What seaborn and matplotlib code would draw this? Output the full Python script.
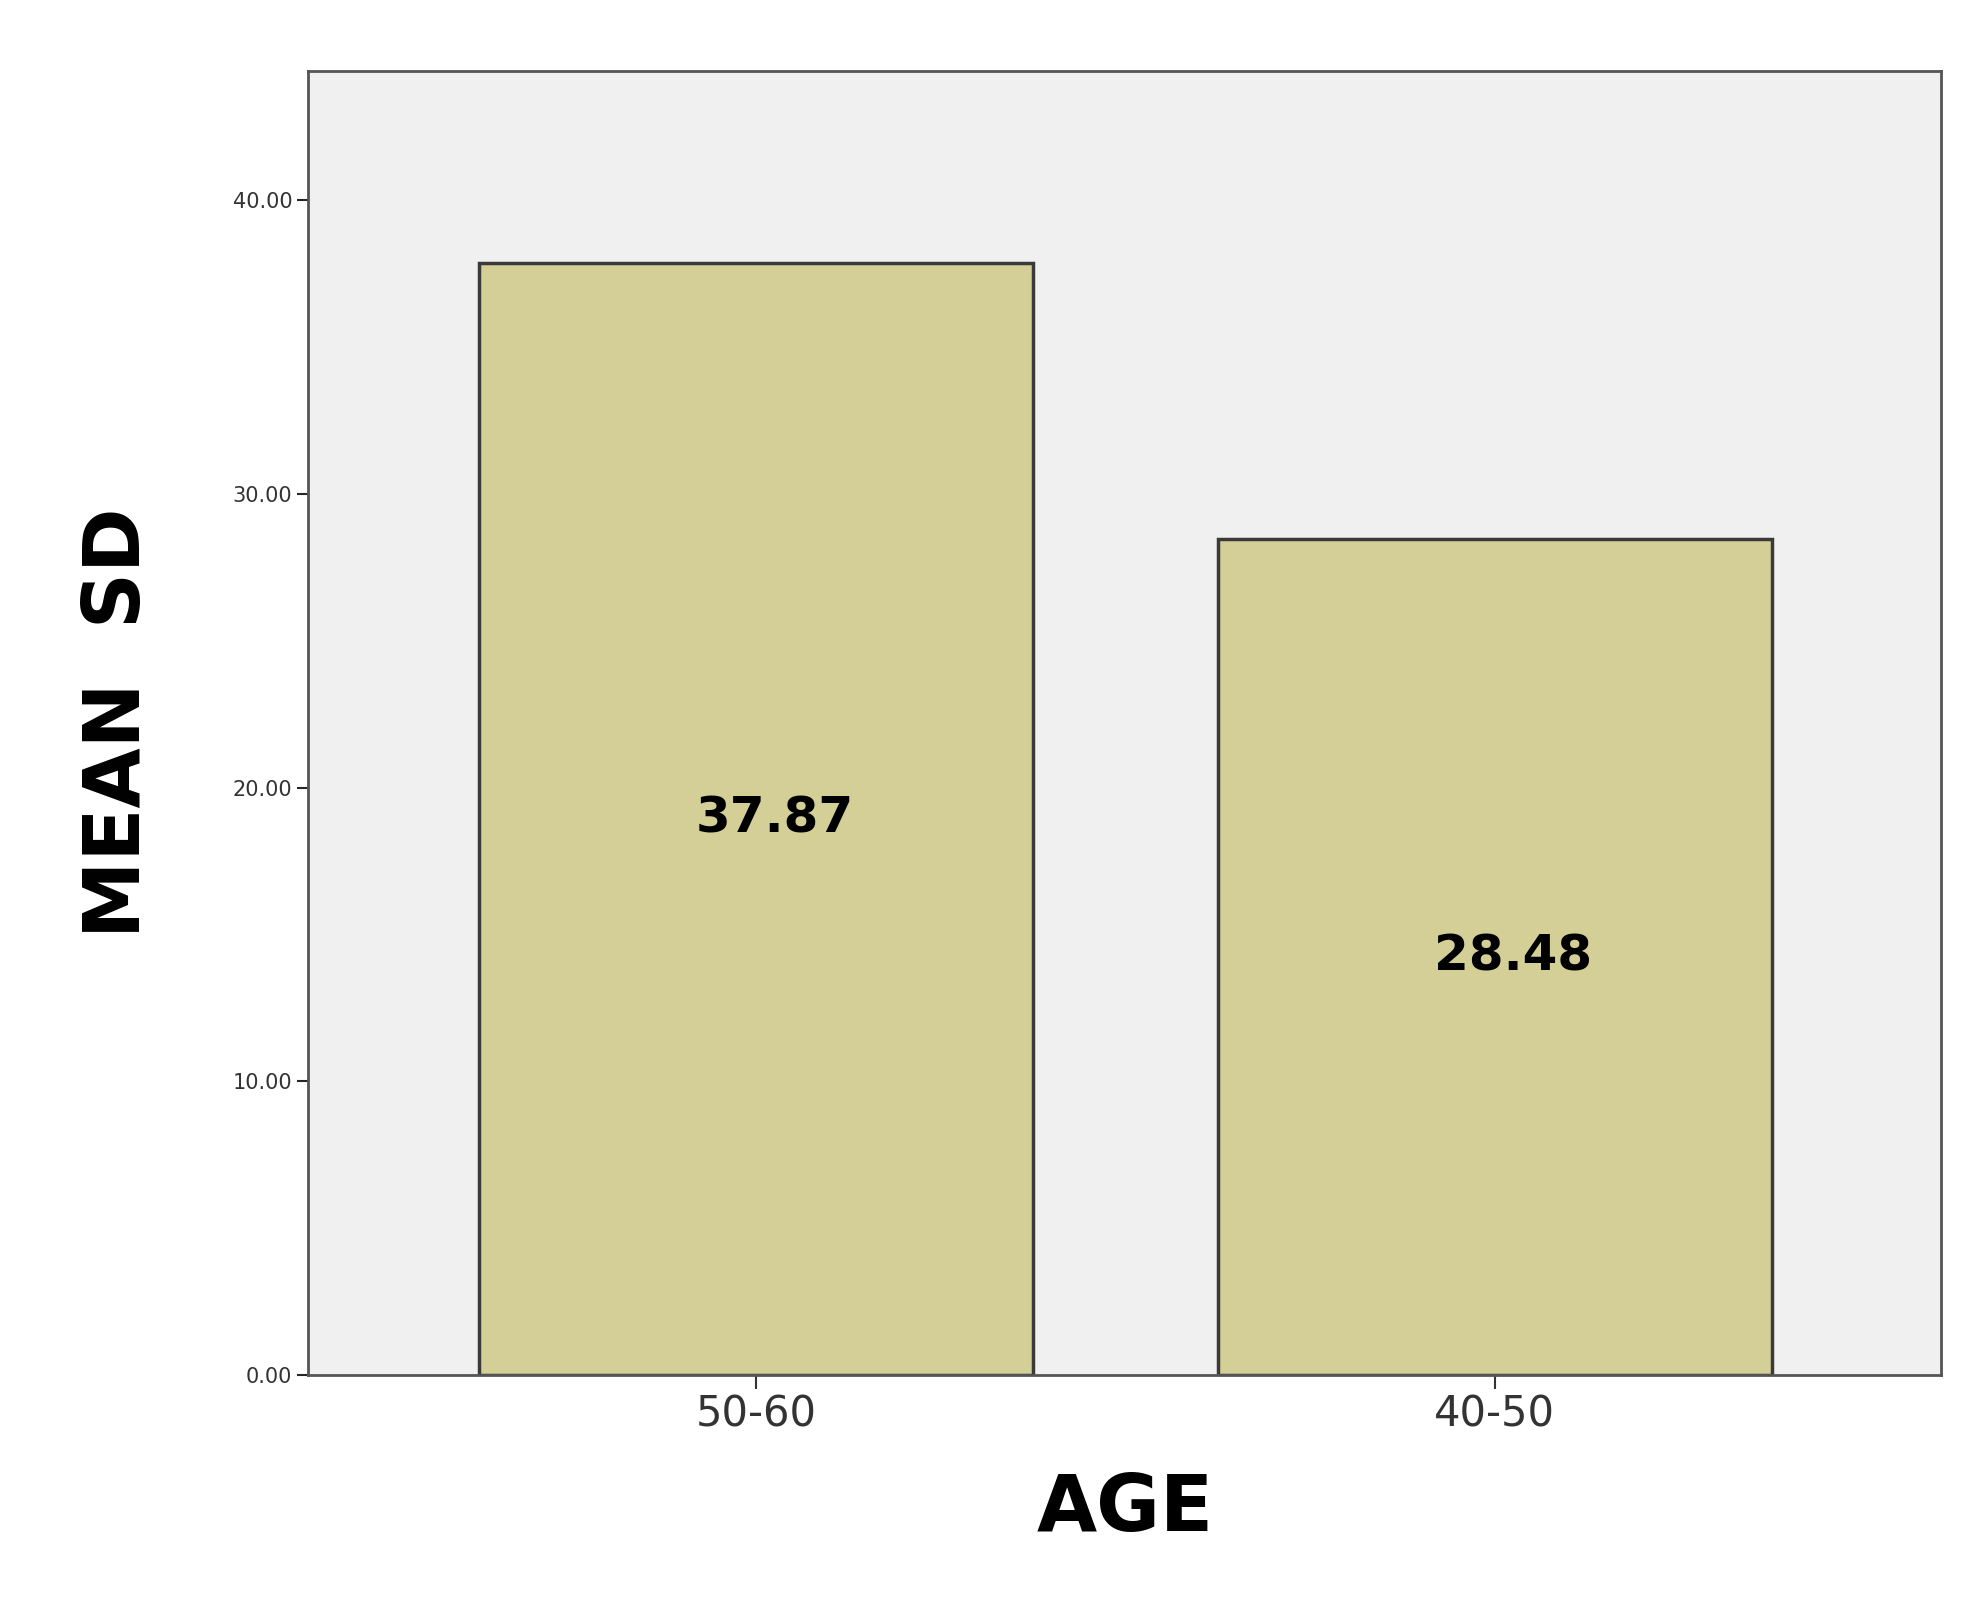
import matplotlib
matplotlib.use("Agg")
import matplotlib.pyplot as plt
import seaborn as sns
import pandas as pd

categories = ["50-60", "40-50"]
values = [37.87, 28.48]
yticks = [0, 10, 20, 30, 40]

sns.set_style("white")
plt.rcParams['font.family'] = ['DejaVu Sans']
df = pd.DataFrame({"AGE": categories, "SD": values})

fig = plt.figure(figsize=(19.63, 16.12), dpi=100)
ax = fig.add_axes([0.157, 0.147, 0.832, 0.809])
ax.set_facecolor("#f0f0f0")
sns.barplot(data=df, x="AGE", y="SD", ax=ax, color="#d3cf96", width=0.75,
            edgecolor="#3a3a3a", linewidth=2.5, saturation=1)
ax.set_xlim(-0.607, 1.605)
ax.set_ylim(0, 44.4)
ax.set_yticks(yticks)
ax.set_yticklabels([f"{v:.2f}" for v in yticks], fontsize=15, color="#333333")
ax.tick_params(axis="x", labelsize=30, length=10, width=1.5, colors="#333333")
ax.tick_params(axis="y", length=8, width=1.5, left=True)
ax.tick_params(axis="x", bottom=True)
for s in ax.spines.values():
    s.set_color("#555555"); s.set_linewidth(2)
for i, v in enumerate(values):
    ax.text(i + 0.025, v / 2, f"{v:.2f}", ha="center", va="center", fontsize=36,
            fontweight="bold", color="black")
ax.set_xlabel("AGE", fontsize=56, fontweight="bold", labelpad=25, color="black")
ax.set_ylabel("MEAN  SD", fontsize=56, fontweight="bold", labelpad=55, color="black")
fig.savefig("out.png", dpi=100, facecolor="white")
